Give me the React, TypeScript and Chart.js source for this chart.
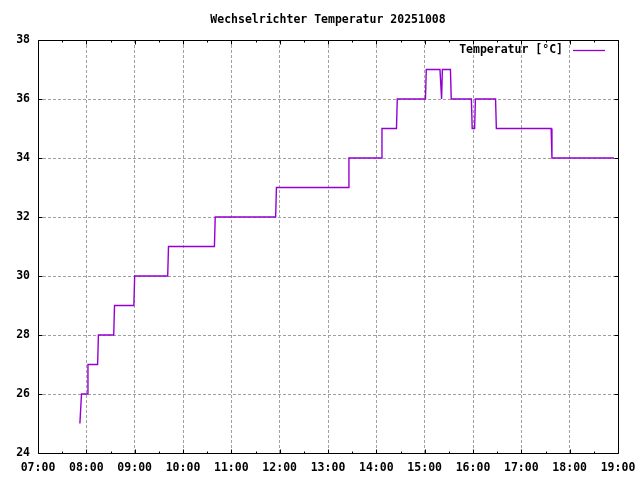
import React, { useEffect, useRef } from "react";
import { Chart, registerables } from "chart.js";

Chart.register(...registerables);

const chartTitle = "Wechselrichter Temperatur 20251008";
const seriesLabel = "Temperatur [°C]";

const times = [
  "07:52", "07:54", "08:01", "08:02", "08:14", "08:15", "08:34", "08:35",
  "08:59", "09:00", "09:41", "09:42", "10:39", "10:40", "11:55", "11:56",
  "13:25", "13:26", "14:06", "14:07", "14:25", "14:26", "15:01", "15:02",
  "15:19", "15:21", "15:22", "15:32", "15:33", "15:58", "15:59", "16:02",
  "16:03", "16:28", "16:29", "17:37", "17:38", "18:55",
];
const temps = [
  25, 26, 26, 27, 27, 28, 28, 29,
  29, 30, 30, 31, 31, 32, 32, 33,
  33, 34, 34, 35, 35, 36, 36, 37,
  37, 36, 37, 37, 36, 36, 35, 35,
  36, 36, 35, 35, 34, 34,
];

const xTickLabels = [
  "07:00", "08:00", "09:00", "10:00", "11:00", "12:00", "13:00",
  "14:00", "15:00", "16:00", "17:00", "18:00", "19:00",
];
const yTickValues = [24, 26, 28, 30, 32, 34, 36, 38];

const FONT = '"DejaVu Sans Mono", monospace';
const LINE_COLOR = "#9400d3";

const toMin = (t: string) => {
  const [h, m] = t.split(":").map(Number);
  return h * 60 + m;
};
const fmt = (v: number) => {
  const h = Math.floor(v / 60);
  const m = Math.round(v - h * 60);
  return String(h).padStart(2, "0") + ":" + String(m).padStart(2, "0");
};

const framePlugin = {
  id: "gnuframe",
  afterDraw(chart: any) {
    const { ctx, chartArea: a, scales } = chart;
    const xs = scales.x;
    const ys = scales.y;
    const L = Math.round(a.left) + 0.5;
    const R = Math.round(a.right) + 0.5;
    const T = Math.round(a.top) + 0.5;
    const B = Math.round(a.bottom) + 0.5;
    ctx.save();
    ctx.strokeStyle = "#000";
    ctx.lineWidth = 1;
    ctx.beginPath();
    ctx.rect(L, T, R - L, B - T);
    const xmin = toMin(xTickLabels[0]);
    const xmax = toMin(xTickLabels[xTickLabels.length - 1]);
    for (let m = xmin; m <= xmax; m += 30) {
      const px = Math.round(xs.getPixelForValue(m)) + 0.5;
      const len = m % 60 === 0 ? 4 : 2;
      ctx.moveTo(px, B);
      ctx.lineTo(px, B - len);
      ctx.moveTo(px, T);
      ctx.lineTo(px, T + len);
    }
    for (const v of yTickValues) {
      const py = Math.round(ys.getPixelForValue(v)) + 0.5;
      ctx.moveTo(L, py);
      ctx.lineTo(L + 4, py);
      ctx.moveTo(R, py);
      ctx.lineTo(R - 4, py);
    }
    ctx.stroke();

    const label = chart.data.datasets[0].label;
    const ly = Math.round(a.top) + 10;
    ctx.font = "bold 11.5px " + FONT;
    ctx.fillStyle = "#000";
    ctx.textAlign = "right";
    ctx.textBaseline = "middle";
    ctx.fillText(label, a.right - 55, ly);
    ctx.strokeStyle = LINE_COLOR;
    ctx.lineWidth = 1.3;
    ctx.beginPath();
    ctx.moveTo(a.right - 45, ly + 0.5);
    ctx.lineTo(a.right - 13, ly + 0.5);
    ctx.stroke();
    ctx.restore();
  },
};

export default function App() {
  const ref = useRef<HTMLCanvasElement | null>(null);

  useEffect(() => {
    if (!ref.current) return;
    const points = times.map((t, i) => ({ x: toMin(t), y: temps[i] }));
    const chart = new Chart(ref.current, {
      type: "line",
      data: {
        datasets: [
          {
            label: seriesLabel,
            data: points,
            borderColor: LINE_COLOR,
            backgroundColor: LINE_COLOR,
            borderWidth: 1.4,
            pointRadius: 0,
            tension: 0,
            fill: false,
          },
        ],
      },
      options: {
        responsive: false,
        animation: false,
        devicePixelRatio: 1,
        layout: { padding: { left: 0, right: 22, top: 0, bottom: 0 } },
        plugins: {
          legend: { display: false },
          tooltip: { enabled: false },
          title: {
            display: true,
            text: chartTitle,
            fullSize: false,
            color: "#000",
            font: { family: FONT, size: 11.5, weight: "bold", lineHeight: 1.2 },
            padding: { top: 13, bottom: 13.2 },
          },
        },
        scales: {
          x: {
            type: "linear",
            min: toMin(xTickLabels[0]),
            max: toMin(xTickLabels[xTickLabels.length - 1]),
            afterFit: (s: any) => {
              s.height = 27;
              s.paddingLeft = 0;
              s.paddingRight = 0;
            },
            afterBuildTicks: (s: any) => {
              s.ticks = xTickLabels.map((t) => ({ value: toMin(t) }));
            },
            ticks: {
              autoSkip: false,
              maxRotation: 0,
              padding: 8,
              color: "#000",
              font: { family: FONT, size: 11.5, weight: "bold" },
              callback: (v: any) => fmt(Number(v)),
            },
            grid: {
              color: "#a0a0a0",
              lineWidth: 1,
              drawTicks: false,
            },
            border: { display: false, dash: [3, 2] },
          },
          y: {
            type: "linear",
            min: yTickValues[0],
            max: yTickValues[yTickValues.length - 1],
            afterFit: (s: any) => {
              s.width = 38;
              s.paddingTop = 0;
              s.paddingBottom = 0;
            },
            afterBuildTicks: (s: any) => {
              s.ticks = yTickValues.map((v) => ({ value: v }));
            },
            ticks: {
              padding: 8,
              color: "#000",
              font: { family: FONT, size: 11.5, weight: "bold" },
              callback: (v: any) => String(v),
            },
            grid: {
              color: "#a0a0a0",
              lineWidth: 1,
              drawTicks: false,
            },
            border: { display: false, dash: [3, 2] },
          },
        },
      },
      plugins: [framePlugin],
    });
    return () => chart.destroy();
  }, []);

  return (
    <div style={{ position: "fixed", left: 0, top: 0, width: 640, height: 480, background: "#fff" }}>
      <canvas ref={ref} width={640} height={480} style={{ display: "block", width: 640, height: 480 }} />
    </div>
  );
}
